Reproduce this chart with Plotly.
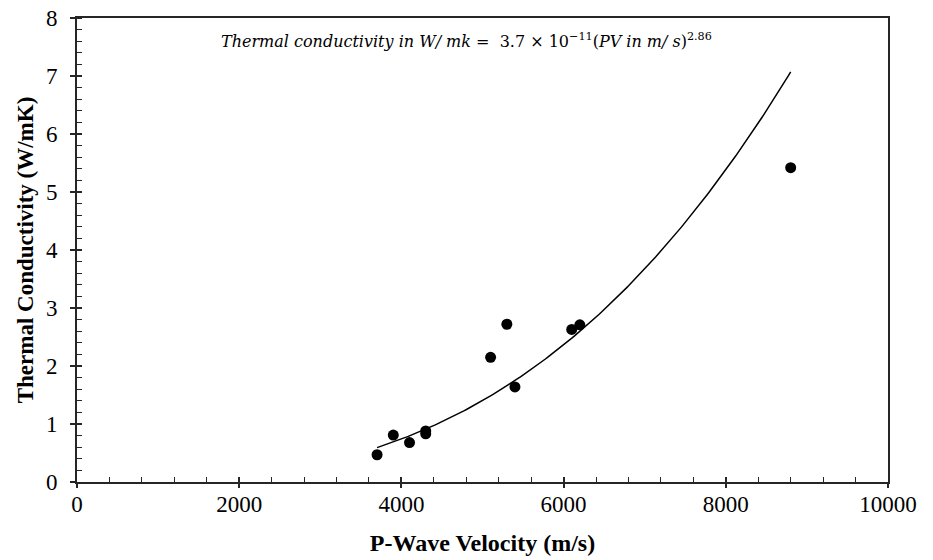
import numpy as np
import plotly.graph_objects as go

# Data
velocity = [3700, 3900, 4100, 4300, 4300, 5100, 5300, 5400, 6100, 6200, 8800]
conductivity = [0.47, 0.81, 0.68, 0.88, 0.83, 2.15, 2.72, 1.64, 2.63, 2.71, 5.42]

# Power trendline coefficients shown in the chart
coef_a = 3.7e-11
coef_b = 2.86
trend_x = np.linspace(min(velocity), max(velocity), 200)
trend_y = coef_a * trend_x ** coef_b

x_ticks = [0, 2000, 4000, 6000, 8000, 10000]
x_tick_labels = ["0", "2000", "4000", "6000", "8000", "10000"]
y_ticks = [0, 1, 2, 3, 4, 5, 6, 7, 8]
y_tick_labels = ["0", "1", "2", "3", "4", "5", "6", "7", "8"]

fig = go.Figure()
fig.add_trace(go.Scatter(x=trend_x, y=trend_y, mode="lines",
                         line=dict(color="black", width=1.5), showlegend=False,
                         hoverinfo="skip"))
fig.add_trace(go.Scatter(x=velocity, y=conductivity, mode="markers",
                         marker=dict(color="black", size=11), showlegend=False))
# dummy trace so the overlay tick axes are drawn
fig.add_trace(go.Scatter(x=[None], y=[None], xaxis="x2", yaxis="y2",
                         showlegend=False, hoverinfo="skip"))

font_family = "Liberation Serif"
tick_col = "#262626"
axis_common = dict(showgrid=False, zeroline=False, showline=True, linecolor=tick_col,
                   linewidth=2, mirror=True, ticklen=5, tickwidth=1.5,
                   tickcolor=tick_col, automargin=False,
                   tickfont=dict(family=font_family, size=23, color="black"))

fig.update_layout(
    xaxis=dict(range=[0, 10000], tickvals=x_ticks, ticktext=x_tick_labels, ticks="inside",
               minor=dict(ticks="inside", dtick=400, ticklen=5, tickwidth=1, tickcolor=tick_col),
               title=dict(text="<b>P-Wave Velocity (m/s)</b>",
                          font=dict(family=font_family, size=24, color="black"), standoff=19),
               **axis_common),
    yaxis=dict(range=[0, 8], tickvals=y_ticks, ticktext=y_tick_labels, ticks="outside",
               ticklabelstandoff=8,
               minor=dict(ticks="inside", dtick=0.2, ticklen=5, tickwidth=1, tickcolor=tick_col),
               title=dict(text="<b>Thermal Conductivity (W/mK)</b>",
                          font=dict(family=font_family, size=23, color="black"), standoff=6),
               **axis_common),
    xaxis2=dict(overlaying="x", range=[0, 10000], tickvals=x_ticks, showticklabels=False,
                ticks="outside", ticklen=5, tickwidth=1.5, tickcolor=tick_col,
                showgrid=False, zeroline=False, showline=False, side="bottom"),
    yaxis2=dict(overlaying="y", range=[0, 8], tickvals=y_ticks, showticklabels=False,
                ticks="inside", ticklen=5, tickwidth=1.5, tickcolor=tick_col,
                showgrid=False, zeroline=False, showline=False, side="left"),
)

fig.add_annotation(
    x=0.48, y=7.62, xref="paper", yref="y", showarrow=False,
    text="<i>Thermal conductivity in W/ mk</i> =  3.7 × 10<sup>−11</sup>(<i>PV in m/ s</i>)<sup>2.86</sup>",
    font=dict(family="DejaVu Serif", size=16, color="black"))

fig.update_layout(width=933, height=560, plot_bgcolor="white", paper_bgcolor="white",
                  margin=dict(l=77, r=45, t=18, b=78))

fig.write_html("out.html")
